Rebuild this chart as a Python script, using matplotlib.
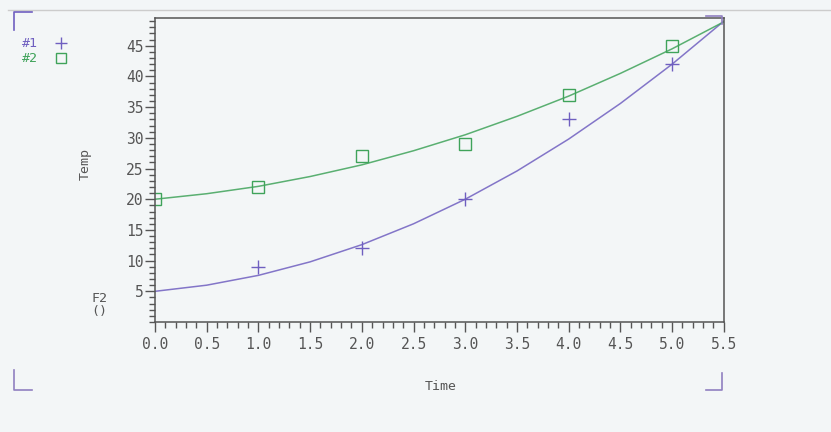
import matplotlib.pyplot as plt
from matplotlib.ticker import MultipleLocator, FormatStrFormatter
from matplotlib.lines import Line2D

# measured points
x1 = [1, 2, 3, 4, 5]
y1 = [9, 12, 20, 33, 42]
x2 = [0, 1, 2, 3, 4, 5]
y2 = [20, 22, 27, 29, 37, 45]

# fitted curves
fit_x = [0, 0.5, 1, 1.5, 2, 2.5, 3, 3.5, 4, 4.5, 5, 5.5]
fit1 = [5, 6.0, 7.6, 9.8, 12.6, 16.0, 20.0, 24.6, 29.8, 35.6, 42.0, 49.0]
fit2 = [20, 20.9, 22.1, 23.7, 25.6, 27.9, 30.5, 33.5, 36.8, 40.5, 44.5, 48.9]

purple = "#6f5fc0"
green = "#3fa35a"
gray = "#555555"
bg = "#f3f6f7"

plt.rcParams['font.family'] = 'DejaVu Sans Mono'

fig = plt.figure(figsize=(8.31, 4.32), dpi=100, facecolor=bg)
ax = fig.add_axes([0.1865, 0.2546, 0.6845, 0.7034])
ax.set_facecolor(bg)

ax.plot(fit_x, fit1, color=purple, lw=1.1, alpha=0.85)
ax.plot(fit_x, fit2, color=green, lw=1.1, alpha=0.85)
ax.plot(x1, y1, linestyle='none', marker='+', ms=10, mew=1.0, color=purple)
ax.plot(x2, y2, linestyle='none', marker='s', ms=8, mew=1.0, mfc='none', color=green)

ax.set_xlim(0, 5.5)
ax.set_ylim(0, 49.5)
ax.xaxis.set_major_locator(MultipleLocator(0.5))
ax.xaxis.set_minor_locator(MultipleLocator(0.1))
ax.yaxis.set_major_locator(MultipleLocator(5))
ax.yaxis.set_minor_locator(MultipleLocator(1))
ax.xaxis.set_major_formatter(FormatStrFormatter('%.1f'))
ax.set_yticks([5, 10, 15, 20, 25, 30, 35, 40, 45])

ax.tick_params(which='major', direction='out', length=7, width=1, color=gray,
               labelcolor=gray, labelsize=10.5, pad=1)
ax.tick_params(which='minor', direction='out', length=4, width=1, color=gray)
ax.tick_params(axis='x', pad=4)
for s in ax.spines.values():
    s.set_color(gray)
    s.set_linewidth(1.1)

fig.text(0.103, 0.62, "Temp", rotation=90, ha='center', va='center', color=gray, fontsize=9.5)
fig.text(0.53, 0.105, "Time", ha='center', va='center', color=gray, fontsize=9.5)
fig.text(0.12, 0.295, "F2\n()", ha='center', va='center', color=gray, fontsize=9.5, linespacing=1.0)

# legend in the top left corner
fig.text(0.027, 0.9, "#1", color=purple, fontsize=9.5, va='center')
fig.text(0.027, 0.865, "#2", color=green, fontsize=9.5, va='center')
fig.add_artist(Line2D([0.074], [0.9], marker='+', ms=9, mew=1.0, color=purple, transform=fig.transFigure))
fig.add_artist(Line2D([0.074], [0.865], marker='s', ms=7, mew=1.0, mfc='none', color=green, transform=fig.transFigure))

# frame lines and corner marks
fig.add_artist(Line2D([0.01, 1.0], [0.977, 0.977], color="#cccccc", lw=1, transform=fig.transFigure))
fig.add_artist(Line2D([0.017, 0.017, 0.039], [0.93, 0.972, 0.972], color=purple, lw=1.2, transform=fig.transFigure))
fig.add_artist(Line2D([0.017, 0.017, 0.039], [0.143, 0.097, 0.097], color="#9080c0", lw=1.2, transform=fig.transFigure))
fig.add_artist(Line2D([0.849, 0.869, 0.869], [0.097, 0.097, 0.136], color="#9080c0", lw=1.2, transform=fig.transFigure))
fig.add_artist(Line2D([0.849, 0.869, 0.869], [0.963, 0.963, 0.945], color="#9080c0", lw=1.2, transform=fig.transFigure))

fig.savefig("out.png", dpi=100, facecolor=bg)
